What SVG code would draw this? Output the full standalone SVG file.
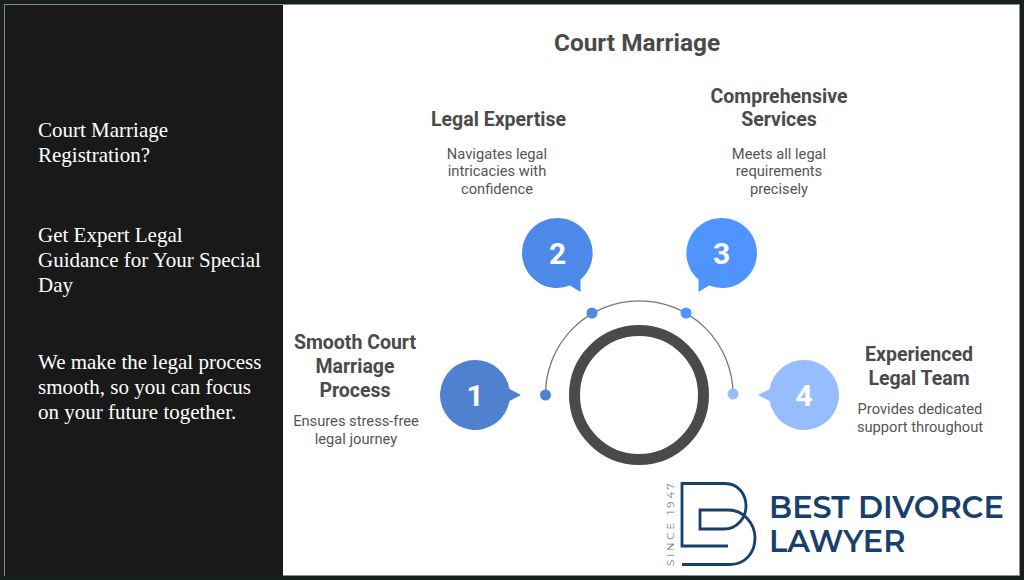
<svg xmlns="http://www.w3.org/2000/svg" width="1024" height="580" viewBox="0 0 1024 580">
<style>
.side{font-family:"Liberation Serif",serif;font-size:21px;fill:#fff}
.head{font-family:Roboto,sans-serif;font-weight:700;font-size:19.5px;fill:#4a4a4a;text-anchor:middle}
.desc{font-family:Roboto,sans-serif;font-size:14.7px;fill:#555;text-anchor:middle}
.num{font-family:Roboto,sans-serif;font-weight:700;font-size:30px;fill:#fff;text-anchor:middle}
.logo{font-family:Montserrat,"Open Sans",sans-serif;font-weight:600;fill:#17406d;font-size:30.400px}
</style>
<rect width="1024" height="580" fill="#17201f"/>
<rect x="5" y="5" width="278" height="571" fill="#191919"/>
<rect x="283" y="5" width="737" height="571" fill="#fff"/>
<path d="M4.500 576V4.500H1019.500V575.500H283" fill="none" stroke="#8a8f8e"/>
<g id="sidebar">
<text class="side"><tspan x="38" y="137">Court Marriage</tspan><tspan x="38" y="162">Registration?</tspan></text>
<text class="side"><tspan x="38" y="242">Get Expert Legal</tspan><tspan x="38" y="267">Guidance for Your Special</tspan><tspan x="38" y="292">Day</tspan></text>
<text class="side"><tspan x="38" y="369">We make the legal process</tspan><tspan x="38" y="394">smooth, so you can focus</tspan><tspan x="38" y="419">on your future together.</tspan></text>
</g>
<text id="title" x="637" y="51" font-family="Roboto,sans-serif" font-weight="700" font-size="24.400" fill="#4a4a4a" text-anchor="middle">Court Marriage</text>
<g id="connectors">
<path d="M545.500 395A93.700 93.700 0 0 1 733 394" fill="none" stroke="#777" stroke-width="1.300"/>
</g>
<g id="hub"><circle cx="639" cy="395" r="64.500" fill="#fff" stroke="#4a4a4a" stroke-width="11"/></g>
<g id="node1">
<path d="M475 360a35 35 0 0 1 34.500 29L521 395 509.500 401A35 35 0 1 1 475 360Z" fill="#4f81d0"/>
<circle cx="545.500" cy="395" r="5.500" fill="#4f81d0"/>
<text class="num" x="475" y="406">1</text>
<text class="head"><tspan x="355" y="349">Smooth Court</tspan><tspan x="355" y="373">Marriage</tspan><tspan x="355" y="397">Process</tspan></text>
<text class="desc"><tspan x="356" y="426">Ensures stress-free</tspan><tspan x="356" y="444">legal journey</tspan></text>
</g>
<g id="node2">
<path d="M557.500 218a35 35 0 0 1 23 61.500L580.500 292 570 285.500A35 35 0 1 1 557.500 218Z" fill="#4d8ae8"/>
<circle cx="592" cy="313" r="5.500" fill="#4d8ae8"/>
<text class="num" x="557.500" y="264">2</text>
<text class="head" x="498.500" y="126">Legal Expertise</text>
<text class="desc"><tspan x="497" y="159">Navigates legal</tspan><tspan x="497" y="176">intricacies with</tspan><tspan x="497" y="194">confidence</tspan></text>
</g>
<g id="node3">
<path d="M721.500 218a35 35 0 0 0 -23 61.500L698.500 292 709 285.500A35 35 0 1 0 721.500 218Z" fill="#4f94ff"/>
<circle cx="686" cy="313" r="5.500" fill="#4f94ff"/>
<text class="num" x="721.500" y="264">3</text>
<text class="head"><tspan x="779" y="103">Comprehensive</tspan><tspan x="779" y="126">Services</tspan></text>
<text class="desc"><tspan x="779" y="159">Meets all legal</tspan><tspan x="779" y="176">requirements</tspan><tspan x="779" y="194">precisely</tspan></text>
</g>
<g id="node4">
<path d="M804 360a35 35 0 0 0 -34.500 29L758 395 769.500 401A35 35 0 1 0 804 360Z" fill="#97bdff"/>
<circle cx="733" cy="394" r="5.500" fill="#97bdff"/>
<text class="num" x="804" y="406">4</text>
<text class="head"><tspan x="919" y="361">Experienced</tspan><tspan x="919" y="385">Legal Team</tspan></text>
<text class="desc"><tspan x="920" y="414">Provides dedicated</tspan><tspan x="920" y="432">support throughout</tspan></text>
</g>
<g id="logo">
<text font-family="Montserrat,'Open Sans',sans-serif" font-size="10" letter-spacing="3" fill="#5f7a96" transform="translate(674 566) rotate(-90)">SINCE 1947</text>
<path d="M728 546H682V483.500H725C738 483.500 746 494 746 506C746 518 737 529 724 529H700V510H728C744 510 755 524 755 538C755 553 745 564.500 730 564.500H682" fill="none" stroke="#17406d" stroke-width="2.800"/>
<text class="logo" x="769" y="518">BEST DIVORCE</text>
<text class="logo" x="769" y="552">LAWYER</text>
</g>
</svg>
